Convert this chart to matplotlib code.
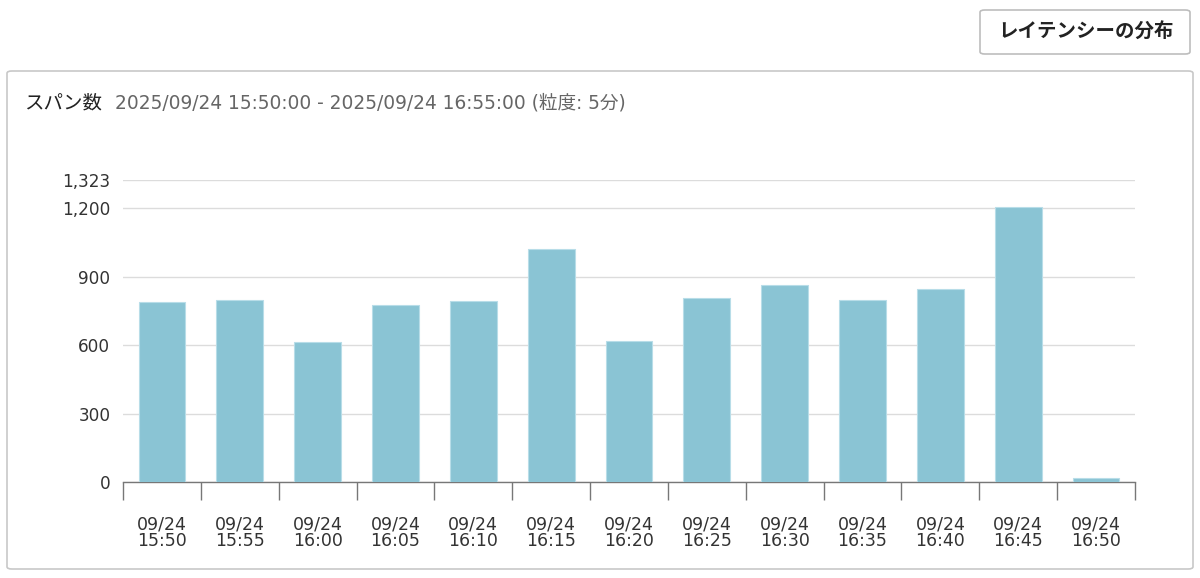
import matplotlib
matplotlib.use("Agg")
import matplotlib.pyplot as plt
from matplotlib.patches import FancyBboxPatch
from matplotlib.ticker import FixedLocator, NullFormatter

plt.rcParams['font.family'] = ['DejaVu Sans', 'Noto Sans CJK JP']

categories = ["09/24\n15:50", "09/24\n15:55", "09/24\n16:00", "09/24\n16:05",
              "09/24\n16:10", "09/24\n16:15", "09/24\n16:20", "09/24\n16:25",
              "09/24\n16:30", "09/24\n16:35", "09/24\n16:40", "09/24\n16:45",
              "09/24\n16:50"]
span_counts = [791, 798, 614, 778, 795, 1023, 617, 805, 865, 798, 845, 1203, 17]
y_ticks = [0, 300, 600, 900, 1200, 1323]
y_tick_labels = ["0", "300", "600", "900", "1,200", "1,323"]
title_text = "スパン数"
subtitle_text = "2025/09/24 15:50:00 - 2025/09/24 16:55:00 (粒度: 5分)"
button_text = "レイテンシーの分布"

W, H = 1200, 578
fig = plt.figure(figsize=(W / 100, H / 100), dpi=100)
fig.patch.set_facecolor("white")

def fx(px):
    return px / W

def fy(py):
    return 1 - py / H

# Outer panel
panel = FancyBboxPatch((fx(7), fy(569)), fx(1193) - fx(7), fy(71) - fy(569),
                       boxstyle="round,pad=0,rounding_size=0.004",
                       transform=fig.transFigure, facecolor="white",
                       edgecolor="#c8c8c8", linewidth=1.2, zorder=0)
fig.add_artist(panel)

# Button
button = FancyBboxPatch((fx(980), fy(54)), fx(1190) - fx(980), fy(10) - fy(54),
                        boxstyle="round,pad=0,rounding_size=0.004",
                        transform=fig.transFigure, facecolor="white",
                        edgecolor="#bdbdbd", linewidth=1.2, zorder=0)
fig.add_artist(button)
fig.text(fx(1086), fy(32), button_text, ha="center", va="center",
         fontsize=14, fontweight="bold", color="#222222",
         family=['Noto Sans CJK JP', 'DejaVu Sans'])

# Titles
fig.text(fx(24), fy(103), title_text, ha="left", va="center",
         fontsize=14, color="#222222",
         family=['Noto Sans CJK JP', 'DejaVu Sans'])
fig.text(fx(115), fy(103), subtitle_text, ha="left", va="center",
         fontsize=13.4, color="#666666")

ax = fig.add_axes([fx(123), fy(482.3), fx(1135) - fx(123), fy(180) - fy(482.3)])
x = list(range(len(categories)))
ax.bar(x, span_counts, width=0.6, color="#8ac4d4", edgecolor="#b8dde8",
       linewidth=0.8, zorder=3)

ax.set_xlim(-0.5, len(categories) - 0.5)
ax.set_ylim(0, 1323)

ax.set_yticks(y_ticks)
ax.set_yticklabels(y_tick_labels)
ax.tick_params(axis="y", length=0, pad=9, labelsize=12.2, labelcolor="#333333")
ax.yaxis.grid(True, color="#dcdcdc", linewidth=1.0, zorder=0)

ax.xaxis.set_major_locator(FixedLocator([i - 0.5 for i in range(len(categories) + 1)]))
ax.xaxis.set_major_formatter(NullFormatter())
ax.xaxis.set_minor_locator(FixedLocator(x))
ax.set_xticklabels(categories, minor=True)
ax.tick_params(axis="x", which="major", direction="out", length=13,
               width=1.0, color="#777777")
ax.tick_params(axis="x", which="minor", length=0, pad=24, labelsize=12.5,
               labelcolor="#333333")
for lbl in ax.get_xticklabels(minor=True):
    lbl.set_linespacing(0.9)

for s in ["top", "right", "left"]:
    ax.spines[s].set_visible(False)
ax.spines["bottom"].set_color("#777777")
ax.spines["bottom"].set_linewidth(1.0)
ax.set_axisbelow(True)
ax.set_facecolor("none")

fig.savefig("out.png", dpi=100, facecolor="white")
